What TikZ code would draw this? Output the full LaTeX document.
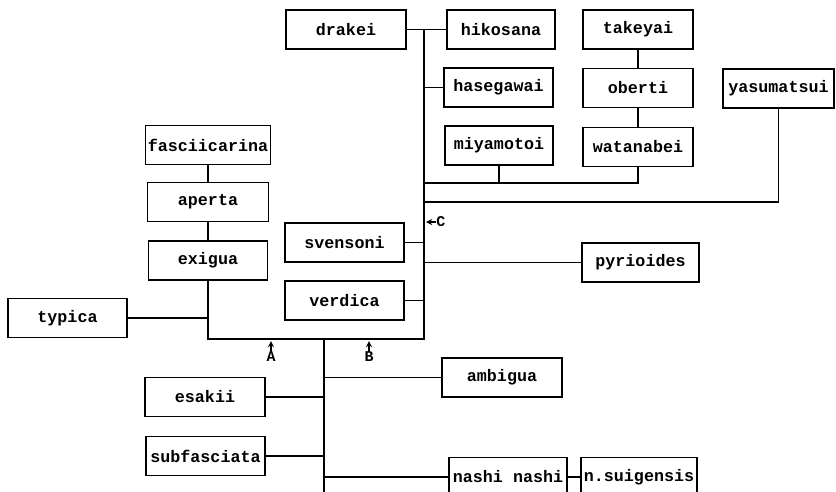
\documentclass[tikz,border=0pt]{standalone}
\usepackage{fontspec}
\setmonofont{Liberation Mono}
\begin{document}
\begin{tikzpicture}[x=0.02cm,y=-0.02cm,
  taxon/.style={draw,line width=0.8pt,inner sep=0pt,minimum height=0.78cm,
    font=\ttfamily\bfseries\fontsize{9.5}{11}\selectfont},
  link/.style={line width=0.8pt},
  pointer/.style={line width=0.6pt,-stealth},
  tag/.style={inner sep=0pt,font=\ttfamily\bfseries\fontsize{8.5}{10}\selectfont}]
  \useasboundingbox (0,0) rectangle (836,491);
  \clip (0,0) rectangle (836,491);
  \node[taxon,minimum width=2.40cm] (drakei) at (346,29.5) {drakei};
  \node[taxon,minimum width=2.16cm] (hikosana) at (501,29.5) {hikosana};
  \node[taxon,minimum width=2.18cm] (hasegawai) at (498.5,87.5) {hasegawai};
  \node[taxon,minimum width=2.16cm] (miyamotoi) at (499,145.5) {miyamotoi};
  \node[taxon,minimum width=2.20cm] (takeyai) at (638,29.5) {takeyai};
  \node[taxon,minimum width=2.20cm] (oberti) at (638,88) {oberti};
  \node[taxon,minimum width=2.20cm] (watanabei) at (638,147) {watanabei};
  \node[taxon,minimum width=2.22cm] (yasumatsui) at (778.5,88.5) {yasumatsui};
  \node[taxon,minimum width=2.50cm] (fasciicarina) at (208,145) {fasciicarina};
  \node[taxon,minimum width=2.42cm] (aperta) at (208,202) {aperta};
  \node[taxon,minimum width=2.38cm] (exigua) at (208,260.5) {exigua};
  \node[taxon,minimum width=2.38cm] (typica) at (67.5,318) {typica};
  \node[taxon,minimum width=2.38cm] (svensoni) at (344.5,242.5) {svensoni};
  \node[taxon,minimum width=2.38cm] (verdica) at (344.5,300.5) {verdica};
  \node[taxon,minimum width=2.34cm] (pyrioides) at (640.5,262.5) {pyrioides};
  \node[taxon,minimum width=2.40cm] (ambigua) at (502,377.5) {ambigua};
  \node[taxon,minimum width=2.40cm] (esakii) at (205,397) {esakii};
  \node[taxon,minimum width=2.38cm] (subfasciata) at (205.5,456) {subfasciata};
  \node[taxon,minimum width=2.36cm] (nashi) at (508,477) {nashi nashi};
  \node[taxon,minimum width=2.32cm] (suigensis) at (639,477) {n.suigensis};

  \coordinate (ctop) at (424,29.5);
  \coordinate (cbase) at (424,339);
  \coordinate (fork) at (208,339);
  \coordinate (mwbar) at (424,183);
  \coordinate (yabar) at (424,202);
  \coordinate (root) at (324,339);
  \coordinate (rootend) at (324,500);

  \draw[link] (drakei.east) -- (hikosana.west);
  \draw[link] (ctop) -- (cbase) -- (fork) -- (exigua.south);
  \draw[link] (typica.east) -- (typica.east -| fork);
  \draw[link] (fasciicarina.south) -- (aperta.north);
  \draw[link] (aperta.south) -- (exigua.north);
  \draw[link] (hasegawai.west) -- (hasegawai.west -| ctop);
  \draw[link] (miyamotoi.south) -- (miyamotoi.south |- mwbar);
  \draw[link] (mwbar) -- (mwbar -| watanabei.south) -- (watanabei.south);
  \draw[link] (yabar) -- (yabar -| yasumatsui.south) -- (yasumatsui.south);
  \draw[link] (takeyai.south) -- (oberti.north);
  \draw[link] (oberti.south) -- (watanabei.north);
  \draw[link] (svensoni.east) -- (svensoni.east -| ctop);
  \draw[link] (pyrioides.west) -- (pyrioides.west -| ctop);
  \draw[link] (verdica.east) -- (verdica.east -| ctop);
  \draw[link] (root) -- (rootend);
  \draw[link] (ambigua.west) -- (ambigua.west -| root);
  \draw[link] (esakii.east) -- (esakii.east -| root);
  \draw[link] (subfasciata.east) -- (subfasciata.east -| root);
  \draw[link] (nashi.west) -- (nashi.west -| root);
  \draw[link] (nashi.east) -- (suigensis.west);

  \coordinate (atip) at (271,341);
  \coordinate (btip) at (369,341);
  \coordinate (ctip) at (426,222);
  \node[tag] (alabel) at (271,357) {A};
  \node[tag] (blabel) at (369,357) {B};
  \node[tag,anchor=west] (clabel) at (436,222) {C};
  \draw[pointer] (alabel.north) -- (atip);
  \draw[pointer] (blabel.north) -- (btip);
  \draw[pointer] (clabel.west) -- (ctip);
\end{tikzpicture}
\end{document}
